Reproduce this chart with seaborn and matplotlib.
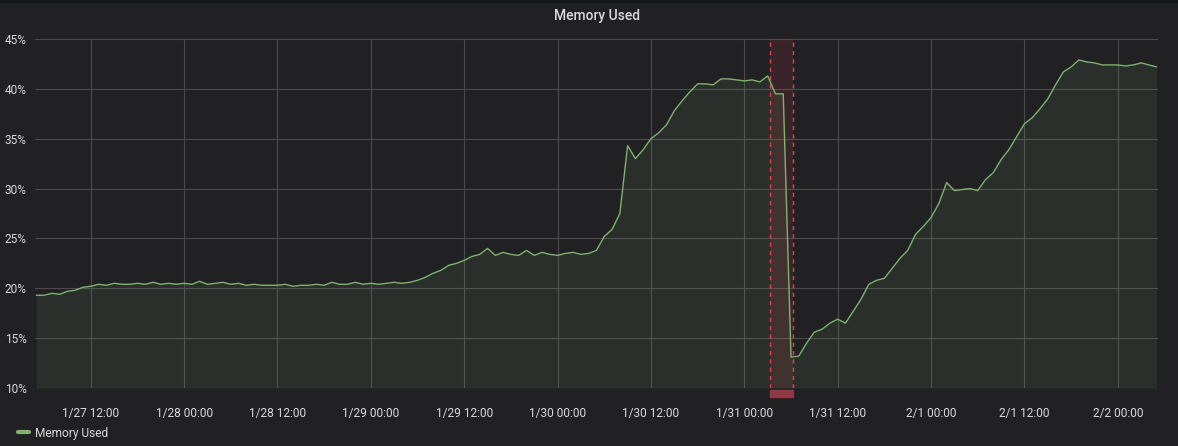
"""
Grafana-style "Memory Used" panel recreated with seaborn.
"""

import pandas as pd
import matplotlib
matplotlib.use("Agg")
import matplotlib.pyplot as plt
import matplotlib.dates as mdates
import matplotlib.transforms as mtransforms
from matplotlib.lines import Line2D
from matplotlib.patches import Rectangle
import seaborn as sns

# ---- data (hourly samples) ----
start_time = "2021-01-27 05:00"
memory_used = [
    # 1/27 05:00 - 11:00
    19.3, 19.3, 19.5, 19.4, 19.7, 19.8, 20.1,
    # 1/27 12:00 - 23:00
    20.2, 20.4, 20.3, 20.5, 20.4, 20.4, 20.5, 20.4, 20.6, 20.4, 20.5, 20.4,
    # 1/28 00:00 - 11:00
    20.5, 20.4, 20.7, 20.4, 20.5, 20.6, 20.4, 20.5, 20.3, 20.4, 20.3, 20.3,
    # 1/28 12:00 - 23:00
    20.3, 20.4, 20.2, 20.3, 20.3, 20.4, 20.3, 20.6, 20.4, 20.4, 20.6, 20.4,
    # 1/29 00:00 - 11:00
    20.5, 20.4, 20.5, 20.6, 20.5, 20.6, 20.8, 21.1, 21.5, 21.8, 22.3, 22.5,
    # 1/29 12:00 - 23:00
    22.8, 23.2, 23.4, 24.0, 23.3, 23.6, 23.4, 23.3, 23.8, 23.3, 23.6, 23.4,
    # 1/30 00:00 - 11:00
    23.3, 23.5, 23.6, 23.4, 23.5, 23.8, 25.2, 25.9, 27.5, 34.3, 33.0, 33.9,
    # 1/30 12:00 - 23:00
    35.0, 35.6, 36.4, 37.8, 38.8, 39.7, 40.5, 40.5, 40.4, 41.0, 41.0, 40.9,
    # 1/31 00:00 - 11:00
    40.8, 40.9, 40.7, 41.3, 39.5, 39.5, 13.1, 13.2, 14.5, 15.6, 15.9, 16.5,
    # 1/31 12:00 - 23:00
    16.9, 16.5, 17.7, 18.9, 20.4, 20.8, 21.0, 22.0, 23.0, 23.8, 25.4, 26.2,
    # 2/1 00:00 - 11:00
    27.1, 28.5, 30.6, 29.8, 29.9, 30.0, 29.8, 30.9, 31.6, 32.9, 33.9, 35.2,
    # 2/1 12:00 - 23:00
    36.5, 37.1, 38.0, 39.0, 40.4, 41.7, 42.2, 42.9, 42.7, 42.6, 42.4, 42.4,
    # 2/2 00:00 - 05:00
    42.4, 42.3, 42.4, 42.6, 42.4, 42.2,
]
x_range = ["2021-01-27 04:50", "2021-02-02 05:10"]
annotation_region = ["2021-01-31 03:19", "2021-01-31 06:16"]
y_ticks = [10, 15, 20, 25, 30, 35, 40, 45]

# ---- colours ----
PANEL_BG = "#212124"
TOP_BAR = "#161719"
TEXT = "#d8d9da"
GRID = "#4b4b4e"
LINE = "#7eb26d"
ANNO = "#e8444f"

sns.set_theme(style="dark")
plt.rcParams["font.family"] = ["Roboto", "DejaVu Sans"]

df = pd.DataFrame({
    "time": pd.date_range(start_time, periods=len(memory_used), freq="h"),
    "used": memory_used,
})

fig = plt.figure(figsize=(11.78, 4.46), dpi=100, facecolor=PANEL_BG)
ax = fig.add_axes([35 / 1178, 1 - 388 / 446, 1123 / 1178, 349 / 446])
ax.set_facecolor(PANEL_BG)

# thin darker strip at the very top of the panel
fig.patches.append(Rectangle((0, 1 - 2 / 446), 1, 2 / 446,
                             transform=fig.transFigure,
                             color=TOP_BAR, zorder=0))

sns.lineplot(data=df, x="time", y="used", ax=ax, color=LINE,
             linewidth=1.0, zorder=4)
ax.fill_between(df["time"], 10, df["used"], color=LINE, alpha=0.1,
                linewidth=0, zorder=3)

# annotation region
a0, a1 = pd.to_datetime(annotation_region)
ax.axvspan(a0, a1, color=ANNO, alpha=0.12, linewidth=0, zorder=2)
for t in (a0, a1):
    ax.axvline(t, color=ANNO, linewidth=1.0, linestyle=(0, (3, 3)), zorder=5)
trans = mtransforms.blended_transform_factory(ax.transData, ax.transAxes)
ax.add_patch(Rectangle((mdates.date2num(a0), -0.026),
                       mdates.date2num(a1) - mdates.date2num(a0), 0.02,
                       transform=trans, color="#8f3a42",
                       clip_on=False, zorder=5))

# axes
ax.set_xlim(pd.to_datetime(x_range))
ax.set_ylim(10, 45)
ax.set_yticks(y_ticks)
ax.set_yticklabels([f"{v}%" for v in y_ticks])
ax.xaxis.set_major_locator(mdates.HourLocator(byhour=[0, 12]))
ax.xaxis.set_major_formatter(plt.FuncFormatter(
    lambda v, _: (lambda d: f"{d.month}/{d.day} {d:%H:%M}")(mdates.num2date(v))
))
ax.set_xlabel("")
ax.set_ylabel("")
ax.grid(True, color=GRID, linewidth=0.8, zorder=1)
ax.set_axisbelow(True)
for side in ax.spines.values():
    side.set_visible(False)
ax.tick_params(axis="x", length=0, pad=14, labelsize=8.6, colors=TEXT)
ax.tick_params(axis="y", length=0, pad=6, labelsize=8.6, colors=TEXT)

fig.text(0.507, 1 - 16 / 446, "Memory Used", ha="center", va="center",
         color=TEXT, fontsize=10, fontweight="medium")

# legend
handle = Line2D([], [], color=LINE, linewidth=3)
fig.legend(handles=[handle], labels=["Memory Used"], loc="center left",
           bbox_to_anchor=(18 / 1178, 1 - 433 / 446), frameon=False,
           fontsize=8.6, labelcolor=TEXT, handlelength=0.9,
           handletextpad=0.5, borderaxespad=0, borderpad=0)

fig.savefig("out.png", dpi=100, facecolor=PANEL_BG)
plt.close(fig)
